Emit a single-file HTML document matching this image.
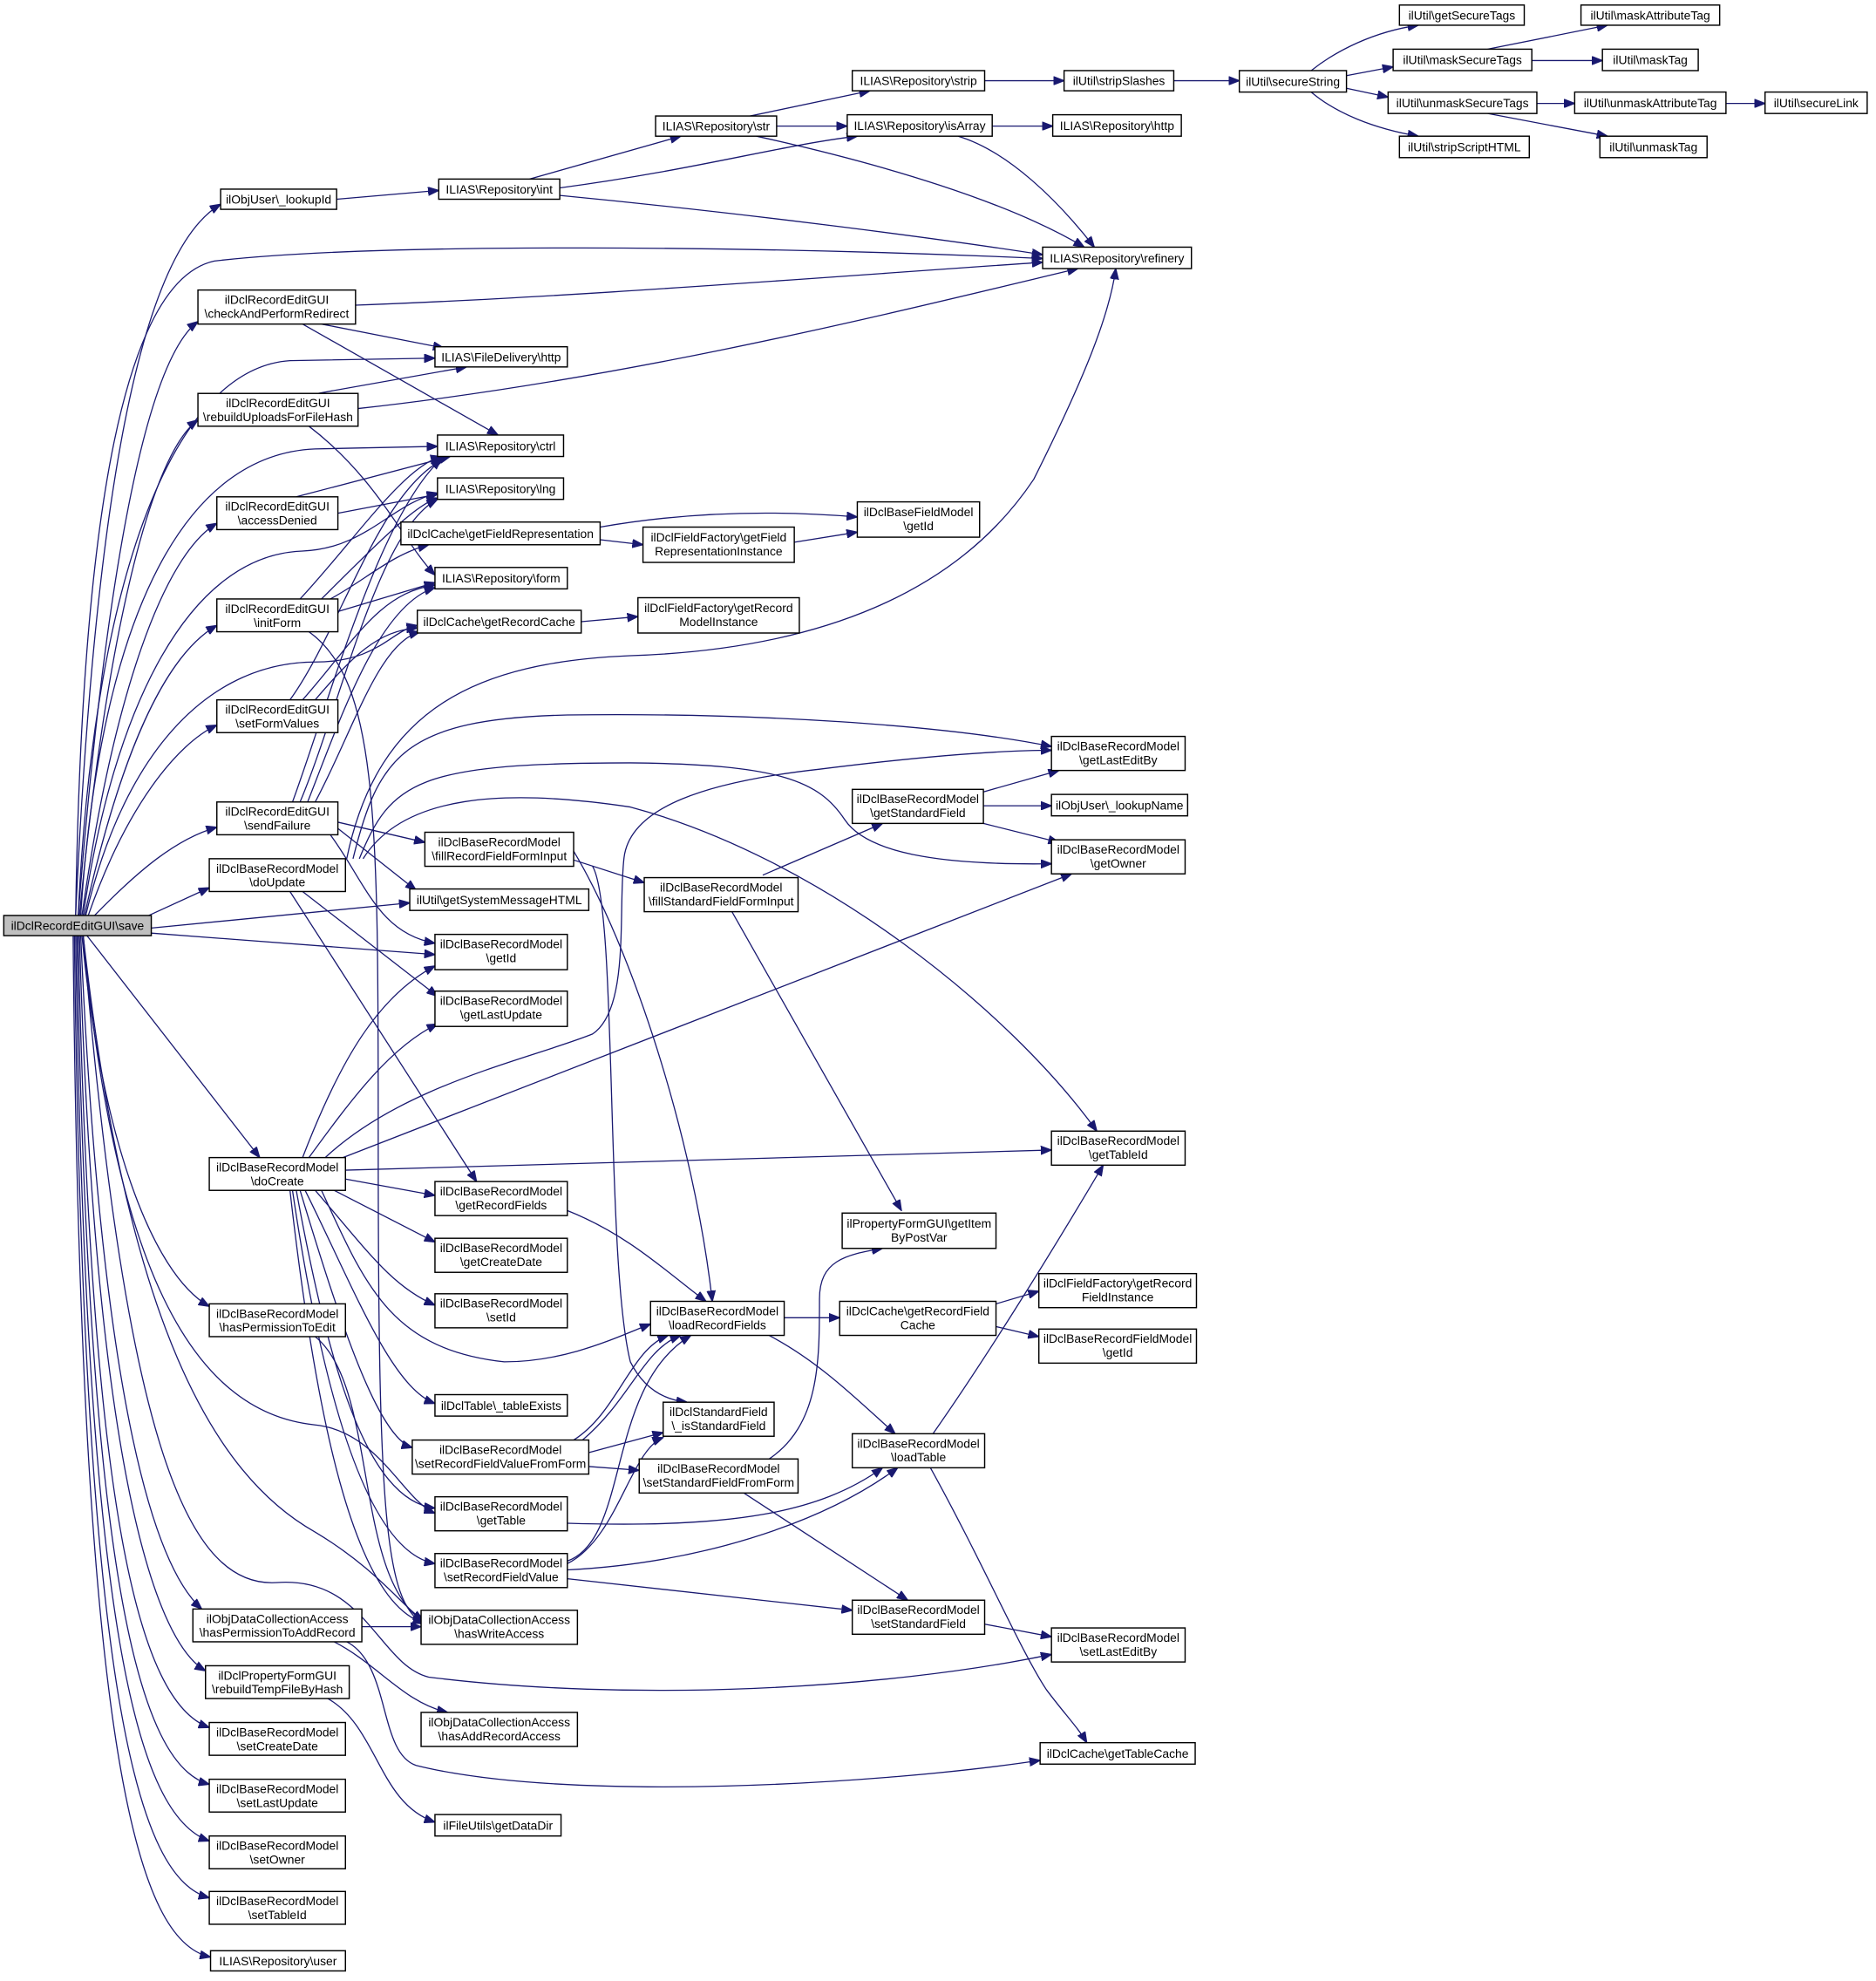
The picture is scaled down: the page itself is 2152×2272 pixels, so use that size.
<!DOCTYPE html>
<html><head><meta charset="utf-8"><style>
html,body{margin:0;padding:0;background:#fff;}
svg{display:block;}
text{font-family:"Liberation Sans",Arial,sans-serif;font-size:9.6px;fill:#000;text-anchor:middle;}
rect{fill:#fff;stroke:#000;stroke-width:1;}
path{fill:none;stroke:#191970;stroke-width:0.9;}
</style></head><body>
<svg width="2152" height="2272" viewBox="0 0 1488 1571" preserveAspectRatio="none" xmlns="http://www.w3.org/2000/svg">
<defs><marker id="a" markerWidth="9" markerHeight="7" refX="8.5" refY="3.5" orient="auto" markerUnits="userSpaceOnUse"><path d="M0,0 L9,3.5 L0,7 z" style="fill:#191970;stroke:#191970;stroke-width:0.5"/></marker></defs>
<g marker-end="url(#a)">
<!-- save edges up -->
<path d="M60,726 C75,400 110,200 175,162"/>
<path d="M60,726 C65,400 100,222 170,207 C300,192 600,195 827,205"/>
<path d="M62,726 C80,500 110,290 157,255"/>
<path d="M62,726 C75,450 140,292 230,286 L345,284"/>
<path d="M63,726 C85,500 120,360 157,333"/>
<path d="M64,726 C80,480 150,360 250,356 L347,354"/>
<path d="M65,726 C90,550 130,440 172,415"/>
<path d="M66,726 C90,560 150,440 240,437 C290,435 310,400 347,391"/>
<path d="M67,726 C95,600 130,520 172,496"/>
<path d="M68,726 C100,590 170,525 250,525 C300,525 310,500 331,496"/>
<path d="M70,726 C100,640 140,590 172,575"/>
<path d="M75,726 C110,690 140,665 172,656"/>
<path d="M118,726 L166,704"/>
<path d="M120,736 L325,716"/>
<path d="M120,740 L345,757"/>
<!-- save edges down -->
<path d="M69,742 L206,918"/>
<path d="M65,742 C80,900 120,1010 166,1036"/>
<path d="M66,742 C90,1000 150,1120 250,1130 C300,1135 320,1190 345,1200"/>
<path d="M66,742 C100,1050 170,1170 250,1215 C300,1245 320,1275 336,1285"/>
<path d="M66,742 C100,1150 150,1260 220,1255 C290,1250 300,1320 340,1330 C500,1350 700,1340 834,1312"/>
<path d="M64,742 C80,1100 120,1240 160,1276"/>
<path d="M63,742 C75,1150 120,1300 163,1325"/>
<path d="M62,742 C72,1200 110,1350 166,1370"/>
<path d="M61,742 C70,1250 110,1400 166,1415"/>
<path d="M60,742 C68,1300 110,1440 166,1460"/>
<path d="M59,742 C66,1350 110,1490 166,1505"/>
<path d="M58,742 C64,1400 110,1540 167,1552"/>
<!-- upper right cluster -->
<path d="M267,158 L348,151"/>
<path d="M420,142 L540,108"/>
<path d="M444,149 C550,135 620,115 680,108"/>
<path d="M444,155 C600,170 750,190 827,202"/>
<path d="M595,92 L690,72"/>
<path d="M616,100 L672,100"/>
<path d="M600,108 C700,130 800,160 860,196"/>
<path d="M787,100 L835,100"/>
<path d="M760,108 C800,120 840,160 868,196"/>
<path d="M781,64 L844,64"/>
<path d="M931,64 L983,64"/>
<path d="M1040,56 C1060,40 1090,25 1125,20"/>
<path d="M1068,60 L1105,53"/>
<path d="M1068,70 L1101,77"/>
<path d="M1040,73 C1060,90 1090,102 1125,108"/>
<path d="M1180,39 L1275,20"/>
<path d="M1215,48 L1271,48"/>
<path d="M1219,82 L1249,82"/>
<path d="M1180,90 L1275,108"/>
<path d="M1369,82 L1400,82"/>
<!-- column 2 edges -->
<path d="M282,242 C450,236 650,220 827,208"/>
<path d="M255,257 L352,276"/>
<path d="M240,257 L395,345"/>
<path d="M252,312 L370,291"/>
<path d="M284,324 C500,300 700,250 855,213"/>
<path d="M245,338 C300,380 320,430 345,456"/>
<path d="M235,394 L357,362"/>
<path d="M268,407 L347,392"/>
<path d="M238,475 C280,430 320,370 350,362"/>
<path d="M255,475 C300,430 330,400 347,395"/>
<path d="M262,475 C290,460 310,440 340,432"/>
<path d="M268,485 L345,462"/>
<path d="M245,501 C300,540 300,650 300,900 C300,1200 305,1270 336,1288"/>
<path d="M476,418 C550,405 620,405 680,410"/>
<path d="M476,428 L510,432"/>
<path d="M630,430 L680,422"/>
<path d="M461,493 L506,489"/>
<path d="M230,555 C270,500 300,390 352,364"/>
<path d="M240,555 C280,510 300,470 345,464"/>
<path d="M250,555 C280,520 300,500 331,498"/>
<path d="M232,636 C260,560 300,410 350,364"/>
<path d="M238,636 C270,560 300,420 347,396"/>
<path d="M244,636 C270,570 300,480 345,466"/>
<path d="M250,636 C280,580 300,510 333,501"/>
<path d="M268,652 L337,668"/>
<path d="M268,657 L330,706"/>
<path d="M262,662 C290,700 300,740 345,748"/>
<!-- doUpdate -->
<path d="M275,681 C300,560 380,525 500,520 C650,515 760,470 820,380 C860,300 880,250 885,213"/>
<path d="M280,681 C300,600 320,570 450,567 C600,565 750,575 834,592"/>
<path d="M285,681 C310,620 330,605 500,605 C620,606 650,620 670,650 C690,680 760,686 834,685"/>
<path d="M288,681 C320,630 400,625 500,640 C650,680 800,800 870,897"/>
<path d="M230,707 L378,937"/>
<path d="M240,707 L347,790"/>
<!-- doCreate -->
<path d="M240,918 C270,840 300,790 345,766"/>
<path d="M245,918 C280,870 310,830 347,812"/>
<path d="M258,918 C320,860 420,840 470,820 C500,800 490,720 495,680 C500,640 560,620 650,610 C730,600 790,595 834,595"/>
<path d="M272,918 L850,693"/>
<path d="M274,928 L834,912"/>
<path d="M274,935 L345,948"/>
<path d="M265,944 L345,985"/>
<path d="M250,944 C290,990 310,1020 345,1035"/>
<path d="M255,944 C290,1020 310,1070 400,1080 C450,1080 490,1060 516,1050"/>
<path d="M242,944 C280,1020 310,1100 345,1113"/>
<path d="M238,944 C270,1050 300,1140 327,1148"/>
<path d="M235,944 C260,1080 290,1190 345,1196"/>
<path d="M232,944 C255,1100 290,1230 345,1240"/>
<path d="M230,944 C250,1120 280,1270 336,1287"/>
<path d="M450,960 C500,980 530,1010 560,1032"/>
<path d="M455,682 L511,700"/>
<path d="M455,675 C500,750 550,900 565,1032"/>
<path d="M470,687 C490,720 480,1000 500,1080 C510,1100 525,1110 545,1112"/>
<path d="M605,694 L700,653"/>
<path d="M580,722 L715,960"/>
<path d="M780,628 L840,611"/>
<path d="M780,639 L834,639"/>
<path d="M780,653 L840,668"/>
<path d="M622,1045 L666,1045"/>
<path d="M610,1059 C650,1080 680,1110 710,1137"/>
<path d="M790,1034 L824,1024"/>
<path d="M790,1052 L824,1060"/>
<path d="M740,1137 C780,1080 830,1000 875,924"/>
<path d="M738,1164 C780,1240 810,1310 830,1340 C845,1360 855,1370 862,1382"/>
<path d="M455,1142 C490,1120 500,1070 530,1059"/>
<path d="M462,1142 C500,1110 510,1070 540,1059"/>
<path d="M467,1152 L526,1136"/>
<path d="M467,1163 L507,1166"/>
<path d="M610,1157 C650,1130 650,1080 650,1030 C650,1000 670,995 700,990"/>
<path d="M590,1184 L720,1269"/>
<path d="M450,1208 C580,1212 650,1200 700,1164"/>
<path d="M450,1238 C500,1220 480,1100 548,1059"/>
<path d="M450,1240 C490,1220 500,1150 526,1140"/>
<path d="M450,1245 C550,1240 650,1210 712,1164"/>
<path d="M450,1252 L676,1277"/>
<path d="M781,1288 L834,1298"/>
<path d="M250,1060 C300,1100 280,1250 336,1286"/>
<path d="M287,1290 L334,1290"/>
<path d="M265,1302 C300,1320 320,1350 355,1358"/>
<path d="M275,1302 C310,1320 300,1390 330,1400 C450,1430 700,1415 825,1396"/>
<path d="M260,1347 C300,1370 300,1430 345,1445"/>
</g>
<!-- nodes -->
<rect x="3" y="726" width="117" height="16" style="fill:#bfbfbf"/><text x="61.5" y="737.5">ilDclRecordEditGUI\save</text>
<rect x="175" y="150" width="92" height="16"/><text x="221" y="161.5">ilObjUser\_lookupId</text>
<rect x="157" y="230" width="125" height="27"/><text x="219.5" y="241">ilDclRecordEditGUI</text><text x="219.5" y="252">\checkAndPerformRedirect</text>
<rect x="157" y="312" width="127" height="26"/><text x="220.5" y="323">ilDclRecordEditGUI</text><text x="220.5" y="334">\rebuildUploadsForFileHash</text>
<rect x="172" y="394" width="96" height="26"/><text x="220" y="405">ilDclRecordEditGUI</text><text x="220" y="416">\accessDenied</text>
<rect x="172" y="475" width="96" height="26"/><text x="220" y="486">ilDclRecordEditGUI</text><text x="220" y="497">\initForm</text>
<rect x="172" y="555" width="96" height="26"/><text x="220" y="566">ilDclRecordEditGUI</text><text x="220" y="577">\setFormValues</text>
<rect x="172" y="636" width="96" height="26"/><text x="220" y="647">ilDclRecordEditGUI</text><text x="220" y="658">\sendFailure</text>
<rect x="166" y="681" width="108" height="26"/><text x="220" y="692">ilDclBaseRecordModel</text><text x="220" y="703">\doUpdate</text>
<rect x="166" y="918" width="108" height="26"/><text x="220" y="929">ilDclBaseRecordModel</text><text x="220" y="940">\doCreate</text>
<rect x="166" y="1034" width="108" height="26"/><text x="220" y="1045">ilDclBaseRecordModel</text><text x="220" y="1056">\hasPermissionToEdit</text>
<rect x="153" y="1276" width="134" height="26"/><text x="220" y="1287">ilObjDataCollectionAccess</text><text x="220" y="1298">\hasPermissionToAddRecord</text>
<rect x="163" y="1321" width="114" height="26"/><text x="220" y="1332">ilDclPropertyFormGUI</text><text x="220" y="1343">\rebuildTempFileByHash</text>
<rect x="166" y="1366" width="108" height="26"/><text x="220" y="1377">ilDclBaseRecordModel</text><text x="220" y="1388">\setCreateDate</text>
<rect x="166" y="1411" width="108" height="26"/><text x="220" y="1422">ilDclBaseRecordModel</text><text x="220" y="1433">\setLastUpdate</text>
<rect x="166" y="1456" width="108" height="26"/><text x="220" y="1467">ilDclBaseRecordModel</text><text x="220" y="1478">\setOwner</text>
<rect x="166" y="1500" width="108" height="26"/><text x="220" y="1511">ilDclBaseRecordModel</text><text x="220" y="1522">\setTableId</text>
<rect x="167" y="1547" width="107" height="16"/><text x="220.5" y="1558.5">ILIAS\Repository\user</text>

<rect x="348" y="142" width="96" height="16"/><text x="396" y="153.5">ILIAS\Repository\int</text>
<rect x="345" y="275" width="105" height="16"/><text x="397.5" y="286.5">ILIAS\FileDelivery\http</text>
<rect x="347" y="345" width="100" height="17"/><text x="397" y="357">ILIAS\Repository\ctrl</text>
<rect x="347" y="379" width="100" height="17"/><text x="397" y="391">ILIAS\Repository\lng</text>
<rect x="318" y="414" width="158" height="18"/><text x="397" y="426.5">ilDclCache\getFieldRepresentation</text>
<rect x="345" y="450" width="105" height="17"/><text x="397.5" y="462">ILIAS\Repository\form</text>
<rect x="331" y="484" width="130" height="18"/><text x="396" y="496.5">ilDclCache\getRecordCache</text>
<rect x="337" y="660" width="118" height="27"/><text x="396" y="671">ilDclBaseRecordModel</text><text x="396" y="682">\fillRecordFieldFormInput</text>
<rect x="325" y="705" width="142" height="17"/><text x="396" y="717">ilUtil\getSystemMessageHTML</text>
<rect x="345" y="741" width="105" height="28"/><text x="397.5" y="752">ilDclBaseRecordModel</text><text x="397.5" y="763">\getId</text>
<rect x="345" y="786" width="105" height="28"/><text x="397.5" y="797">ilDclBaseRecordModel</text><text x="397.5" y="808">\getLastUpdate</text>
<rect x="345" y="937" width="105" height="27"/><text x="397.5" y="948">ilDclBaseRecordModel</text><text x="397.5" y="959">\getRecordFields</text>
<rect x="345" y="982" width="105" height="27"/><text x="397.5" y="993">ilDclBaseRecordModel</text><text x="397.5" y="1004">\getCreateDate</text>
<rect x="345" y="1026" width="105" height="27"/><text x="397.5" y="1037">ilDclBaseRecordModel</text><text x="397.5" y="1048">\setId</text>
<rect x="345" y="1106" width="105" height="17"/><text x="397.5" y="1118">ilDclTable\_tableExists</text>
<rect x="327" y="1142" width="140" height="27"/><text x="397" y="1153">ilDclBaseRecordModel</text><text x="397" y="1164">\setRecordFieldValueFromForm</text>
<rect x="345" y="1187" width="105" height="27"/><text x="397.5" y="1198">ilDclBaseRecordModel</text><text x="397.5" y="1209">\getTable</text>
<rect x="345" y="1232" width="105" height="27"/><text x="397.5" y="1243">ilDclBaseRecordModel</text><text x="397.5" y="1254">\setRecordFieldValue</text>
<rect x="334" y="1277" width="124" height="27"/><text x="396" y="1288">ilObjDataCollectionAccess</text><text x="396" y="1299">\hasWriteAccess</text>
<rect x="334" y="1358" width="124" height="27"/><text x="396" y="1369">ilObjDataCollectionAccess</text><text x="396" y="1380">\hasAddRecordAccess</text>
<rect x="345" y="1439" width="100" height="17"/><text x="395" y="1451">ilFileUtils\getDataDir</text>

<rect x="520" y="92" width="96" height="16"/><text x="568" y="103.5">ILIAS\Repository\str</text>
<rect x="676" y="56" width="105" height="16"/><text x="728.5" y="67.5">ILIAS\Repository\strip</text>
<rect x="672" y="91" width="115" height="17"/><text x="729.5" y="103">ILIAS\Repository\isArray</text>
<rect x="510" y="418" width="120" height="28"/><text x="570" y="429.5">ilDclFieldFactory\getField</text><text x="570" y="440.5">RepresentationInstance</text>
<rect x="506" y="474" width="128" height="28"/><text x="570" y="485.5">ilDclFieldFactory\getRecord</text><text x="570" y="496.5">ModelInstance</text>
<rect x="511" y="696" width="122" height="27"/><text x="572" y="707">ilDclBaseRecordModel</text><text x="572" y="718">\fillStandardFieldFormInput</text>
<rect x="516" y="1032" width="106" height="27"/><text x="569" y="1043">ilDclBaseRecordModel</text><text x="569" y="1054">\loadRecordFields</text>
<rect x="526" y="1112" width="88" height="27"/><text x="570" y="1123">ilDclStandardField</text><text x="570" y="1134">\_isStandardField</text>
<rect x="507" y="1157" width="126" height="27"/><text x="570" y="1168">ilDclBaseRecordModel</text><text x="570" y="1179">\setStandardFieldFromForm</text>
<rect x="676" y="626" width="104" height="27"/><text x="728" y="637">ilDclBaseRecordModel</text><text x="728" y="648">\getStandardField</text>
<rect x="668" y="962" width="122" height="28"/><text x="729" y="973.5">ilPropertyFormGUI\getItem</text><text x="729" y="984.5">ByPostVar</text>
<rect x="666" y="1032" width="124" height="27"/><text x="728" y="1043">ilDclCache\getRecordField</text><text x="728" y="1054">Cache</text>
<rect x="676" y="1137" width="105" height="27"/><text x="728.5" y="1148">ilDclBaseRecordModel</text><text x="728.5" y="1159">\loadTable</text>
<rect x="676" y="1269" width="105" height="27"/><text x="728.5" y="1280">ilDclBaseRecordModel</text><text x="728.5" y="1291">\setStandardField</text>

<rect x="844" y="56" width="87" height="16"/><text x="887.5" y="67.5">ilUtil\stripSlashes</text>
<rect x="835" y="91" width="102" height="17"/><text x="886" y="103">ILIAS\Repository\http</text>
<rect x="827" y="196" width="118" height="17"/><text x="886" y="208">ILIAS\Repository\refinery</text>
<rect x="680" y="398" width="97" height="28"/><text x="728.5" y="409.5">ilDclBaseFieldModel</text><text x="728.5" y="420.5">\getId</text>
<rect x="834" y="584" width="106" height="27"/><text x="887" y="595">ilDclBaseRecordModel</text><text x="887" y="606">\getLastEditBy</text>
<rect x="834" y="630" width="108" height="17"/><text x="888" y="642">ilObjUser\_lookupName</text>
<rect x="834" y="666" width="106" height="27"/><text x="887" y="677">ilDclBaseRecordModel</text><text x="887" y="688">\getOwner</text>
<rect x="834" y="897" width="106" height="27"/><text x="887" y="908">ilDclBaseRecordModel</text><text x="887" y="919">\getTableId</text>
<rect x="824" y="1010" width="125" height="27"/><text x="886.5" y="1021">ilDclFieldFactory\getRecord</text><text x="886.5" y="1032">FieldInstance</text>
<rect x="824" y="1054" width="125" height="27"/><text x="886.5" y="1065">ilDclBaseRecordFieldModel</text><text x="886.5" y="1076">\getId</text>
<rect x="834" y="1291" width="106" height="27"/><text x="887" y="1302">ilDclBaseRecordModel</text><text x="887" y="1313">\setLastEditBy</text>
<rect x="825" y="1382" width="123" height="17"/><text x="886.5" y="1394">ilDclCache\getTableCache</text>

<rect x="983" y="56" width="85" height="17"/><text x="1025.5" y="68">ilUtil\secureString</text>
<rect x="1110" y="4" width="99" height="16"/><text x="1159.5" y="15.5">ilUtil\getSecureTags</text>
<rect x="1105" y="39" width="110" height="17"/><text x="1160" y="51">ilUtil\maskSecureTags</text>
<rect x="1101" y="73" width="118" height="17"/><text x="1160" y="85">ilUtil\unmaskSecureTags</text>
<rect x="1110" y="108" width="103" height="17"/><text x="1161.5" y="120">ilUtil\stripScriptHTML</text>
<rect x="1254" y="4" width="110" height="16"/><text x="1309" y="15.5">ilUtil\maskAttributeTag</text>
<rect x="1271" y="39" width="76" height="17"/><text x="1309" y="51">ilUtil\maskTag</text>
<rect x="1249" y="73" width="120" height="17"/><text x="1309" y="85">ilUtil\unmaskAttributeTag</text>
<rect x="1269" y="108" width="85" height="17"/><text x="1311.5" y="120">ilUtil\unmaskTag</text>
<rect x="1400" y="73" width="81" height="17"/><text x="1440.5" y="85">ilUtil\secureLink</text>
</svg>
</body></html>
